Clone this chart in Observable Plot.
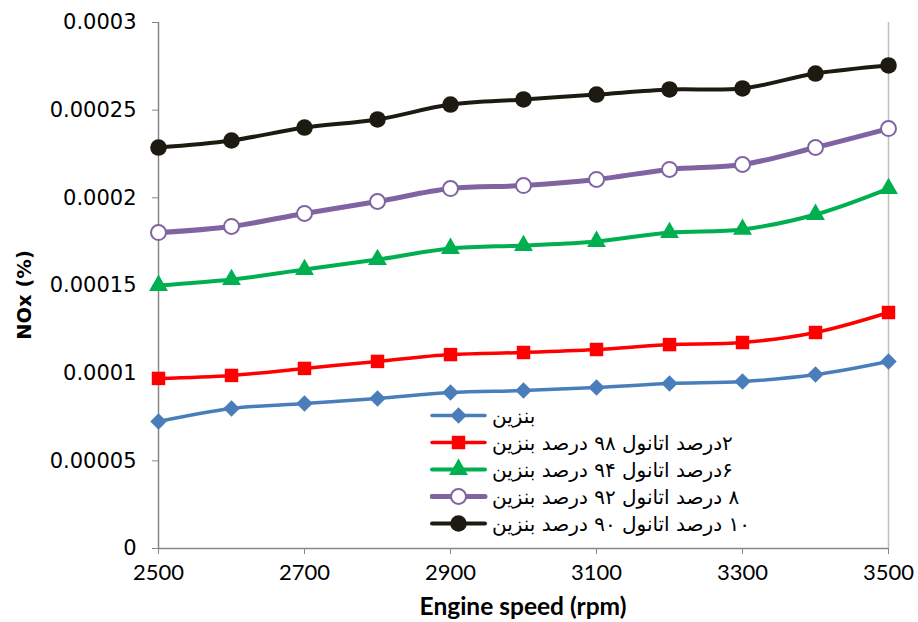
<!DOCTYPE html>
<html>
<head>
<meta charset="utf-8">
<script src="https://cdn.jsdelivr.net/npm/d3@7"></script>
<script src="https://cdn.jsdelivr.net/npm/@observablehq/plot@0.6"></script>
<style>
  body { margin: 0; background: #fff; }
  #wrap { position: relative; width: 918px; height: 622px; overflow: hidden; }
  #wrap svg.plot { position: absolute; left: 0; top: 0; }
  .ytitle { position: absolute; left: 24px; top: 295px; transform: translate(-50%, -50%) rotate(-90deg);
            font: bold 19.5px "DejaVu Sans", sans-serif; white-space: nowrap; color: #000; }
  .xtitle { position: absolute; left: 523px; top: 605px; transform: translate(-50%, -50%);
            font: bold 24.5px Lato, sans-serif; white-space: nowrap; color: #000; }
  #legend { position: absolute; left: 430px; top: 402px; }
  .lrow { height: 27px; display: flex; align-items: center; }
  .lrow svg { flex: none; }
  .lrow span { font: 20px "DejaVu Sans", sans-serif; margin-left: 4px; white-space: nowrap; unicode-bidi: isolate; color: #000; }
</style>
</head>
<body>
<div id="wrap"></div>
<script>
// ---- data ----
const speeds = [2500, 2600, 2700, 2800, 2900, 3000, 3100, 3200, 3300, 3400, 3500];
const gasoline = [0.0000724, 0.0000798, 0.0000827, 0.0000856, 0.0000890, 0.0000901, 0.0000918, 0.0000941, 0.0000952, 0.0000992, 0.0001067];
const ethanol2 = [0.0000970, 0.0000987, 0.0001027, 0.0001067, 0.0001106, 0.0001118, 0.0001135, 0.0001163, 0.0001175, 0.0001232, 0.0001346];
const ethanol6 = [0.0001500, 0.0001534, 0.0001591, 0.0001648, 0.0001711, 0.0001728, 0.0001751, 0.0001802, 0.0001820, 0.0001905, 0.0002053];
const ethanol8 = [0.0001802, 0.0001837, 0.0001911, 0.0001979, 0.0002053, 0.0002070, 0.0002105, 0.0002162, 0.0002190, 0.0002287, 0.0002395];
const ethanol10 = [0.0002287, 0.0002327, 0.0002401, 0.0002447, 0.0002532, 0.0002561, 0.0002589, 0.0002618, 0.0002624, 0.0002709, 0.0002755];

const seriesNames = [
  "بنزین",
  "۲درصد اتانول ۹۸ درصد بنزین",
  "۶درصد اتانول ۹۴ درصد بنزین",
  "۸ درصد اتانول ۹۲ درصد بنزین",
  "۱۰ درصد اتانول ۹۰ درصد بنزین"
];
const xTicks = [2500, 2700, 2900, 3100, 3300, 3500];
const yTicks = [0, 0.00005, 0.0001, 0.00015, 0.0002, 0.00025, 0.0003];
const yTickLabels = ["0", "0.00005", "0.0001", "0.00015", "0.0002", "0.00025", "0.0003"];
const xTitle = "Engine speed (rpm)";
const yTitle = "NOx (%)";

// ---- styles ----
const styles = [
  {color: "#4a7ebb", symbol: "diamond2", r: 7.4, lw: 3.5, fill: "#4a7ebb", sw: 0},
  {color: "#ff0000", symbol: "square",   r: 7.6, lw: 3.5, fill: "#ff0000", sw: 0},
  {color: "#00b050", symbol: "triangle", r: 7.0, lw: 4,   fill: "#00b050", sw: 0},
  {color: "#8064a2", symbol: "circle",   r: 7.5, lw: 5,   fill: "#ffffff", sw: 2},
  {color: "#1d1b11", symbol: "circle",   r: 8.3, lw: 4,   fill: "#1d1b11", sw: 0}
];

const allValues = [gasoline, ethanol2, ethanol6, ethanol8, ethanol10];
const tables = allValues.map((vals, i) => speeds.map((s, j) => ({speed: s, value: vals[j], series: seriesNames[i]})));

const marks = [
  Plot.ruleX([xTicks[xTicks.length - 1]], {stroke: "#bfbfbf", strokeWidth: 1.5}),
  Plot.axisY({ticks: yTicks, tickFormat: d => yTickLabels[yTicks.indexOf(d)], tickSize: 6, tickPadding: 16,
              fontSize: 21, fontFamily: "DejaVu Sans", stroke: "#868686", fill: "#000", label: null}),
  Plot.axisX({ticks: xTicks, tickFormat: d => String(d), tickSize: 6, tickPadding: 10,
              fontSize: 22, fontFamily: "Lato", stroke: "#868686", fill: "#000", label: null}),
  Plot.ruleX([xTicks[0]], {stroke: "#868686", strokeWidth: 1.5}),
  Plot.ruleY([yTicks[0]], {stroke: "#868686", strokeWidth: 1.5})
];
tables.forEach((t, i) => {
  const st = styles[i];
  marks.push(Plot.line(t, {x: "speed", y: "value", stroke: st.color, strokeWidth: st.lw, curve: "catmull-rom"}));
});
tables.forEach((t, i) => {
  const st = styles[i];
  marks.push(Plot.dot(t, {x: "speed", y: "value", symbol: () => st.symbol, r: st.r, fill: st.fill,
    stroke: st.sw ? st.color : "none", strokeWidth: st.sw}));
});

const chart = Plot.plot({
  width: 918, height: 622,
  marginLeft: 158, marginRight: 30, marginTop: 22, marginBottom: 74,
  x: {domain: [xTicks[0], xTicks[xTicks.length - 1]]},
  y: {domain: [yTicks[0], yTicks[yTicks.length - 1]]},
  symbol: {type: "identity"},
  style: {background: "#fff", overflow: "visible"},
  marks
});
chart.classList.add("plot");
const wrap = document.getElementById("wrap");
wrap.appendChild(chart);

const yt = document.createElement("div"); yt.className = "ytitle"; yt.textContent = yTitle; wrap.appendChild(yt);
const xt = document.createElement("div"); xt.className = "xtitle"; xt.textContent = xTitle; wrap.appendChild(xt);

// legend
const legend = document.createElement("div"); legend.id = "legend";
seriesNames.forEach((name, i) => {
  const st = styles[i];
  const row = document.createElement("div"); row.className = "lrow";
  const svg = d3.create("svg").attr("width", 58).attr("height", 27);
  svg.append("line").attr("x1", 2).attr("x2", 55).attr("y1", 13.5).attr("y2", 13.5)
     .attr("stroke", st.color).attr("stroke-width", st.lw).attr("stroke-linecap", "round");
  const symMap = {diamond2: d3.symbolDiamond2, square: d3.symbolSquare, triangle: d3.symbolTriangle, circle: d3.symbolCircle};
  svg.append("path").attr("transform", "translate(28.5,13.5)")
     .attr("d", d3.symbol(symMap[st.symbol], Math.PI * st.r * st.r)())
     .attr("fill", st.fill).attr("stroke", st.sw ? st.color : "none").attr("stroke-width", st.sw);
  row.appendChild(svg.node());
  const sp = document.createElement("span"); sp.dir = "rtl"; sp.textContent = name;
  row.appendChild(sp);
  legend.appendChild(row);
});
wrap.appendChild(legend);
</script>
</body>
</html>
